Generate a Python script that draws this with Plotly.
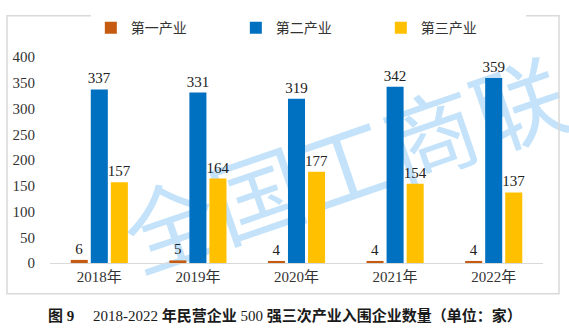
import plotly.graph_objects as go

years = ["2018年", "2019年", "2020年", "2021年", "2022年"]
series_names = ["第一产业", "第二产业", "第三产业"]
primary = [6, 5, 4, 4, 4]
secondary = [337, 331, 319, 342, 359]
tertiary = [157, 164, 177, 154, 137]
colors = ["#C55A11", "#0070C0", "#FFC000"]
y_ticks = [0, 50, 100, 150, 200, 250, 300, 350, 400]

FONT = "Liberation Serif, Noto Sans CJK SC, serif"

fig = go.Figure()
for name, vals, col in zip(series_names, [primary, secondary, tertiary], colors):
    fig.add_trace(go.Bar(
        x=years, y=vals, name=name,
        marker=dict(color=col, line=dict(width=0)),
        text=[str(v) for v in vals], textposition="outside",
        constraintext="none",
        textfont=dict(family=FONT, size=15, color="#222222"),
        cliponaxis=False,
    ))

fig.update_layout(
    width=569, height=331,
    margin=dict(l=50, r=26, t=48, b=68),
    paper_bgcolor="white", plot_bgcolor="white",
    barmode="group", bargap=0.39, bargroupgap=0.15,
    font=dict(family=FONT, size=14, color="#333333"),
    showlegend=True,
    legend=dict(orientation="h", x=0.524, xanchor="center", y=1.14, yanchor="middle",
                entrywidth=100, entrywidthmode="pixels",
                font=dict(family="Noto Sans CJK SC, Liberation Serif", size=14, color="#333333"),
                traceorder="normal"),
    xaxis=dict(showline=True, linecolor="#D9D9D9", linewidth=1, ticks="",
               tickfont=dict(family=FONT, size=15, color="#333333")),
    yaxis=dict(range=[0, 400], tickvals=y_ticks, showgrid=False, zeroline=False,
               showline=False, ticklabelstandoff=14,
               tickfont=dict(family=FONT, size=15, color="#333333")),
)

# watermark behind the bars
fig.add_shape(type="rect", xref="paper", yref="paper", x0=0.404, x1=0.804, y0=0.33, y1=0.53,
              line=dict(width=0), fillcolor="rgba(0,0,0,0)", layer="below",
              label=dict(text="全国工商联", textangle=-19, textposition="middle center",
                         font=dict(family="Noto Sans CJK SC", size=92, color="#C4E3FA")))

# outer frame
fig.add_shape(type="rect", xref="paper", yref="paper",
              x0=-43/493, x1=(559-50)/493, y0=-(295-263)/215, y1=(263-5)/215,
              line=dict(color="#D9D9D9", width=1.5), fillcolor="rgba(0,0,0,0)", layer="below")

fig.add_annotation(text="<b>图 9</b>　 2018-2022 <b>年民营企业</b> 500 <b>强三次产业入围企业数量（单位：家）</b>",
                   xref="paper", yref="paper", x=(285-50)/493, y=-(318-263)/215,
                   xanchor="center", yanchor="middle", showarrow=False,
                   font=dict(family="Liberation Serif, Noto Sans CJK SC", size=15, color="#1a1a1a"))

fig.write_html("out.html")
